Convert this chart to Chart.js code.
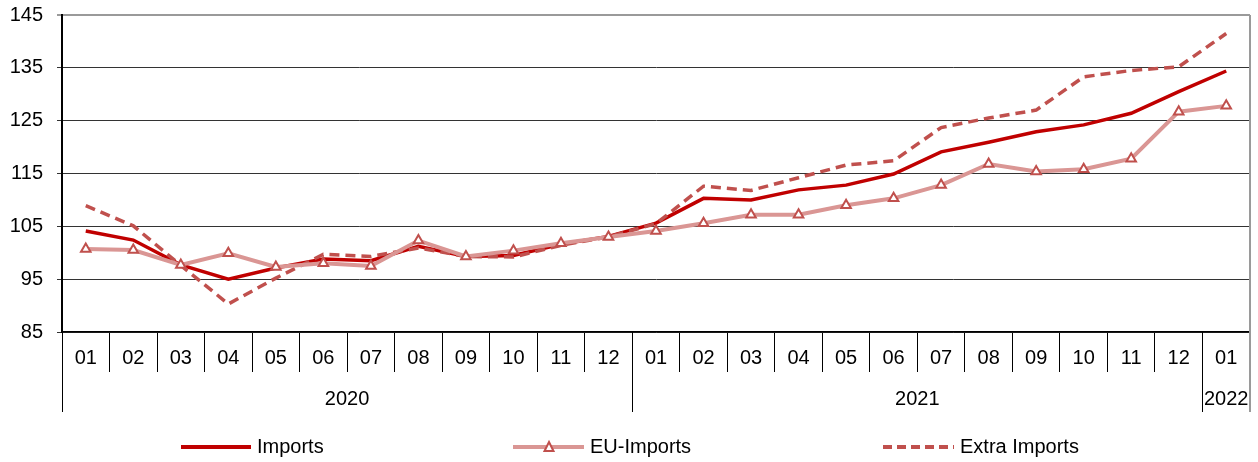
<!DOCTYPE html>
<html>
<head>
<meta charset="utf-8">
<script src="https://cdn.jsdelivr.net/npm/chart.js@4/dist/chart.umd.min.js"></script>
<style>
html,body{margin:0;padding:0;background:#fff;}
canvas{display:block;}
</style>
</head>
<body>
<canvas id="c" width="1258" height="462" style="width:1258px;height:462px"></canvas>
<script>
const months = ['01','02','03','04','05','06','07','08','09','10','11','12','01','02','03','04','05','06','07','08','09','10','11','12','01'];
const yearLabels = ['2020','2021','2022'];
const yearSpans = [12,12,1];
const seriesNames = ['Imports','EU-Imports','Extra Imports'];
const imports = [104.1,102.4,97.7,95.0,97.1,98.8,98.5,101.2,99.3,99.5,101.6,103.1,105.6,110.3,110.0,111.9,112.8,114.9,119.1,120.9,122.9,124.2,126.4,130.5,134.4];
const euImports = [100.7,100.5,97.7,99.9,97.3,98.0,97.5,102.3,99.3,100.4,101.8,103.0,104.1,105.6,107.2,107.2,109.0,110.3,112.8,116.8,115.4,115.8,117.8,126.7,127.8];
const extraImports = [108.9,105.1,97.6,90.3,95.2,99.7,99.3,100.9,99.3,99.2,101.4,103.0,105.5,112.6,111.8,114.2,116.6,117.4,123.7,125.5,127.0,133.3,134.5,135.2,141.5];
const yMin = 85, yMax = 145, yStep = 10;

const FONT = '"Liberation Sans", Arial, sans-serif';
const C_IMP = '#C00000', C_EU = '#DA9694', C_EUPT = '#C0504D', C_EX = '#C0504D';

const extraPlugin = {
  id: 'extra',
  afterDraw(chart) {
    const ctx = chart.ctx, x = chart.scales.x, ca = chart.chartArea;
    ctx.save();
    ctx.strokeStyle = '#9a9a9a'; ctx.lineWidth = 2;
    ctx.beginPath(); ctx.moveTo(ca.right, ca.top); ctx.lineTo(ca.right, 412); ctx.stroke();
    ctx.strokeStyle = '#000'; ctx.lineWidth = 1;
    let idx = 0;
    const step = x.getPixelForValue(1) - x.getPixelForValue(0);
    const leftEdge = x.getPixelForValue(0) - step / 2;
    ctx.font = '20px ' + FONT; ctx.fillStyle = '#000'; ctx.textAlign = 'center'; ctx.textBaseline = 'middle';
    yearSpans.forEach((n, k) => {
      const a = leftEdge + idx * step, b = leftEdge + (idx + n) * step;
      ctx.beginPath(); ctx.moveTo(Math.round(a) + 0.5, ca.bottom); ctx.lineTo(Math.round(a) + 0.5, 412); ctx.stroke();
      ctx.fillText(yearLabels[k], (a + b) / 2, 399);
      idx += n;
    });
    const ly = 447;
    ctx.textAlign = 'left';
    ctx.lineCap = 'butt';
    ctx.strokeStyle = C_IMP; ctx.lineWidth = 4;
    ctx.beginPath(); ctx.moveTo(181, ly); ctx.lineTo(251, ly); ctx.stroke();
    ctx.fillText(seriesNames[0], 257, ly);
    ctx.strokeStyle = C_EU; ctx.lineWidth = 4;
    ctx.beginPath(); ctx.moveTo(513, ly); ctx.lineTo(584, ly); ctx.stroke();
    ctx.strokeStyle = C_EUPT; ctx.fillStyle = '#fff'; ctx.lineWidth = 2;
    ctx.beginPath(); ctx.moveTo(549, ly - 5); ctx.lineTo(553.5, ly + 4); ctx.lineTo(544.5, ly + 4); ctx.closePath(); ctx.fill(); ctx.stroke();
    ctx.fillStyle = '#000';
    ctx.fillText(seriesNames[1], 590, ly);
    ctx.strokeStyle = C_EX; ctx.lineWidth = 4; ctx.setLineDash([9, 5]);
    ctx.beginPath(); ctx.moveTo(883, ly); ctx.lineTo(954, ly); ctx.stroke();
    ctx.setLineDash([]);
    ctx.fillText(seriesNames[2], 960, ly);
    ctx.restore();
  }
};

new Chart(document.getElementById('c'), {
  type: 'line',
  data: {
    labels: months,
    datasets: [
      { label: seriesNames[0], data: imports, borderColor: C_IMP, borderWidth: 3.5, pointRadius: 0, order: 2, tension: 0 },
      { label: seriesNames[1], data: euImports, borderColor: C_EU, borderWidth: 4, pointStyle: 'triangle', pointRadius: 5.5, pointBorderColor: C_EUPT, pointBackgroundColor: '#fff', pointBorderWidth: 2, order: 0, tension: 0 },
      { label: seriesNames[2], data: extraImports, borderColor: C_EX, borderWidth: 3.5, borderDash: [10, 6], pointRadius: 0, order: 1, tension: 0 }
    ]
  },
  options: {
    responsive: false,
    animation: false,
    devicePixelRatio: 1,
    layout: { padding: { top: 15, right: 8, left: 0, bottom: 0 } },
    plugins: { legend: { display: false }, tooltip: { enabled: false } },
    scales: {
      x: {
        type: 'category',
        offset: true,
        afterFit(s) { s.height = 130; s.paddingLeft = 0; s.paddingRight = 0; },
        grid: { offset: true, drawOnChartArea: false, drawTicks: true, tickLength: 40, color: '#000', lineWidth: 1 },
        border: { display: true, color: '#000', width: 1.5 },
        ticks: { color: '#000', font: { family: FONT, size: 20 }, padding: -26, maxRotation: 0, autoSkip: false }
      },
      y: {
        min: yMin, max: yMax,
        afterFit(s) { s.width = 62; s.paddingTop = 0; s.paddingBottom = 0; },
        grid: { color: ctx => (ctx.tick && ctx.tick.value === yMax) ? '#9a9a9a' : '#333', lineWidth: ctx => (ctx.tick && ctx.tick.value === yMax) ? 2 : 1, tickLength: 5, drawTicks: true },
        border: { display: true, color: '#000', width: 2 },
        ticks: { stepSize: yStep, color: '#000', font: { family: FONT, size: 20 }, padding: 14 }
      }
    }
  },
  plugins: [extraPlugin]
});
</script>
</body>
</html>
